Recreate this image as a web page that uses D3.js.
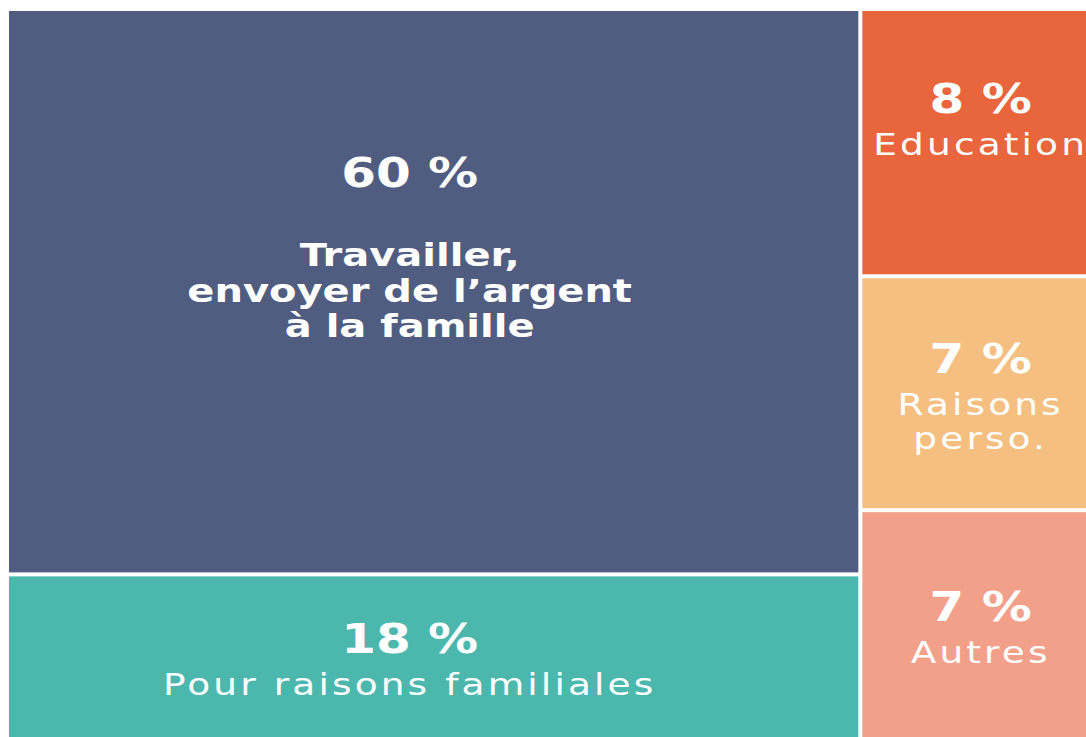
<!DOCTYPE html>
<html>
<head>
<meta charset="utf-8">
<script src="https://cdn.jsdelivr.net/npm/d3@7"></script>
<style>
  html, body { margin: 0; padding: 0; background: #fff; }
  svg { display: block; }
  text { font-family: "DejaVu Sans", sans-serif; fill: #fff; }
</style>
</head>
<body>
<svg id="chart" width="1086" height="737"></svg>
<script>
// data
const columns = ["travail", "autres"];
const column = [0, 0, 1, 1, 1];
const values = [60, 18, 8, 7, 7];
const labels = [
  ["Travailler,", "envoyer de l’argent", "à la famille"],
  ["Pour raisons familiales"],
  ["Education"],
  ["Raisons", "perso."],
  ["Autres"]
];
const colors = ["#505d80", "#4cb8ad", "#e9653c", "#f5bf81", "#f2a08a"];

// layout
const margin = {left: 9, top: 11};
const width = 1090, height = 731;
const sx = 1.25;              // wide face emulation
const nudgeX = [-24, -24, 0, 0, 0];
const nudgeY = [-44, 0, -23, 3, 0];

const svg = d3.select("#chart");

const rows = values.map((v, i) => ({i, value: v, col: columns[column[i]]}));
const tree = {children: columns.map(c => ({name: c, children: rows.filter(r => r.col === c)}))};

const root = d3.hierarchy(tree).sum(d => d.value || 0);
d3.treemap()
  .tile(d3.treemapSliceDice)
  .size([width, height])
  .paddingInner(4)
  .round(false)(root);

const g = svg.append("g").attr("transform", `translate(${margin.left},${margin.top})`);

const cell = g.selectAll("g.cell")
  .data(root.leaves())
  .join("g")
  .attr("class", "cell");

cell.append("rect")
  .attr("x", d => d.x0)
  .attr("y", d => d.y0)
  .attr("width", d => d.x1 - d.x0)
  .attr("height", d => d.y1 - d.y0)
  .attr("fill", d => colors[d.data.i]);

const pctCap = 29;

cell.each(function(d) {
  const i = d.data.i;
  const big = i === 0;
  const lines = labels[i];
  const gap = big ? 79 : 42;
  const lh = big ? 35.5 : 34;
  const blockH = pctCap + gap + (lines.length - 1) * lh;
  const cx = (d.x0 + d.x1) / 2 + nudgeX[i];
  const cy = (d.y0 + d.y1) / 2 + nudgeY[i];
  const base = cy - blockH / 2 + pctCap;

  const t = d3.select(this).append("g")
    .attr("transform", `translate(${cx},${base}) scale(${sx},1)`);

  t.append("text")
    .attr("text-anchor", "middle")
    .attr("font-size", 40)
    .attr("font-weight", "bold")
    .attr("letter-spacing", 0)
    .text(d.value + " %");

  t.selectAll("text.lbl")
    .data(lines)
    .join("text")
    .attr("class", "lbl")
    .attr("text-anchor", "middle")
    .attr("y", (s, k) => gap + k * lh)
    .attr("font-size", big ? 32 : 30)
    .attr("font-weight", big ? "bold" : "normal")
    .attr("letter-spacing", big ? 0 : 2.5)
    .text(s => s);
});
</script>
</body>
</html>
